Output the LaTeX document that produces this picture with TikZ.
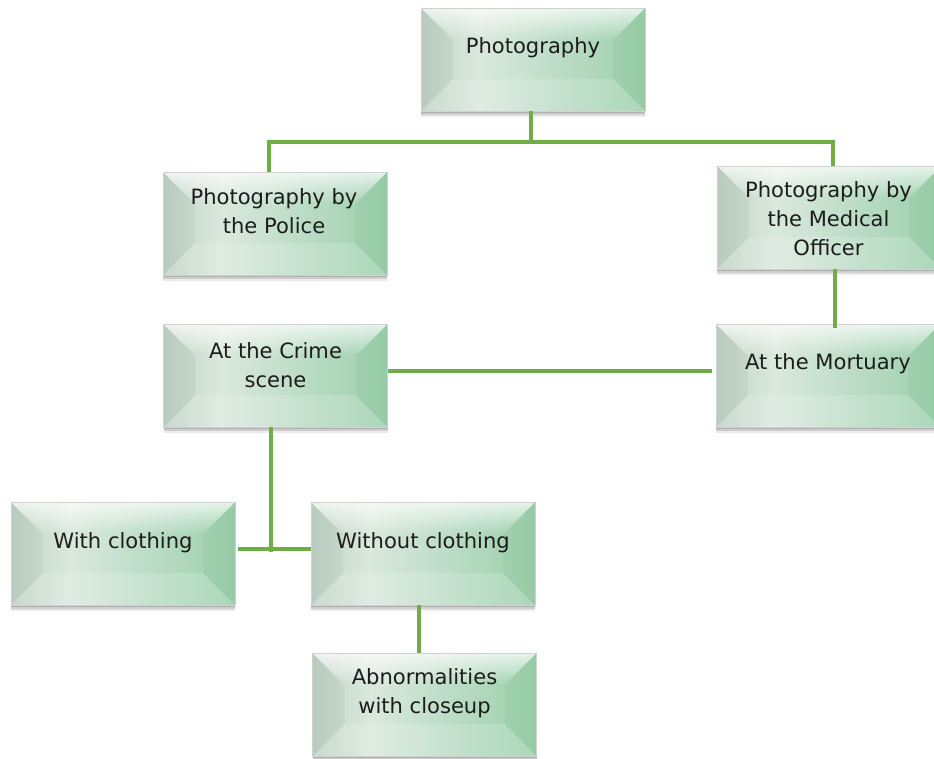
\documentclass[tikz,border=0pt]{standalone}
\usepackage{fontspec}
\setmainfont{DejaVu Sans}
\usetikzlibrary{shadows,calc,fadings}

\definecolor{linkgreen}{HTML}{70AD47}
\definecolor{gA}{HTML}{BFD3C6}
\definecolor{gB}{HTML}{DAE8DE}
\definecolor{gC}{HTML}{9BD0AC}
\definecolor{textdark}{HTML}{1C1C1C}

% left-to-right fill of the bevelled boxes
\pgfdeclarehorizontalshading{boxfill}{100bp}{%
  color(0bp)=(gA); color(25bp)=(gA); color(38bp)=(gB);
  color(75bp)=(gC); color(100bp)=(gC)}

\tikzset{
  bevelbox/.style={
    draw=black!18, line width=0.5pt,
    minimum width=168pt, minimum height=77.25pt, inner sep=0pt,
    shading=boxfill,
    drop shadow={shadow xshift=0pt, shadow yshift=-4.5pt, opacity=0.08, fill=black},
    drop shadow={shadow xshift=0pt, shadow yshift=-3pt, opacity=0.12, fill=black},
    drop shadow={shadow xshift=0pt, shadow yshift=-1.5pt, opacity=0.15, fill=black},
    path picture={
      \coordinate (NW) at (path picture bounding box.north west);
      \coordinate (NE) at (path picture bounding box.north east);
      \coordinate (SW) at (path picture bounding box.south west);
      \coordinate (SE) at (path picture bounding box.south east);
      \coordinate (iNW) at ([shift={(24pt,-24pt)}]NW);
      \coordinate (iNE) at ([shift={(-24pt,-24pt)}]NE);
      \coordinate (iSW) at ([shift={(24pt,24pt)}]SW);
      \coordinate (iSE) at ([shift={(-24pt,24pt)}]SE);
      % top facet, glowing white towards the upper edge
      \fill[white, opacity=0.75, path fading=south] (NW) -- (NE) -- (iNE) -- (iNW) -- cycle;
      % left facet
      \fill[black, opacity=0.035] (NW) -- (iNW) -- (iSW) -- (SW) -- cycle;
      % right facet
      \fill[green!35!black, opacity=0.035] (NE) -- (iNE) -- (iSE) -- (SE) -- cycle;
      % bottom facet
      \fill[white, opacity=0.16] (SW) -- (iSW) -- (iSE) -- (SE) -- cycle;
    }
  },
  boxtext/.style={
    text=textdark, align=center, inner sep=0pt,
    font=\fontsize{15.8pt}{21.75pt}\selectfont
  },
  link/.style={draw=linkgreen, line width=2.3pt}
}

\begin{document}
\begin{tikzpicture}[x=0.75pt, y=-0.75pt]
\useasboundingbox (0,0) rectangle (934,758);
\clip (0,0) rectangle (934,758);

\coordinate (bus) at (531,142);
\coordinate (low) at (271,549);
\coordinate (rgt) at (835,0);

% boxes
\node[bevelbox] (p)   at (533,59.5)  {};
\node[bevelbox] (pol) at (275,223.5) {};
\node[bevelbox] (med) at (829,217.5) {};
\node[bevelbox] (cs)  at (275.5,375.5) {};
\node[bevelbox] (mor) at (828,375.5) {};
\node[bevelbox] (wc)  at (123,553.5) {};
\node[bevelbox] (woc) at (423,553.5) {};
\node[bevelbox] (ab)  at (424.5,704.5) {};

% labels
\node[boxtext] (pT)   at (533,48)    {Photography};
\node[boxtext] (polT) at (274,211.5) {Photography by\\the Police};
\node[boxtext] (medT) at (828.5,219) {Photography by\\the Medical\\Officer};
\node[boxtext] (csT)  at (275.5,365) {At the Crime\\scene};
\node[boxtext] (morT) at (828,364)   {At the Mortuary};
\node[boxtext] (wcT)  at (123,543)   {With clothing};
\node[boxtext] (wocT) at (423,543)   {Without clothing};
\node[boxtext] (abT)  at (424.5,693.5) {Abnormalities\\with closeup};

% connectors
\draw[link] (p.south -| bus) -- (bus);
\draw[link] ([xshift=-4.5pt]pol.north) -- ([xshift=-4.5pt]pol.north |- bus)
            -- ([xshift=3pt]med.north |- bus) -- ([xshift=3pt]med.north);
\draw[link] (med.south -| rgt) -- ([yshift=-3pt]mor.north -| rgt);
\draw[link] ([yshift=3.4pt]cs.east) -- ([xshift=-3pt,yshift=3.4pt]mor.west);
\draw[link] (cs.south -| low) -- ([yshift=-2.3pt]low);
\draw[link] ([xshift=2.3pt]wc.east |- low) -- (woc.west |- low);
\draw[link] ([xshift=-3pt]woc.south) -- ([xshift=-3pt]woc.south |- ab.north);
\end{tikzpicture}
\end{document}
